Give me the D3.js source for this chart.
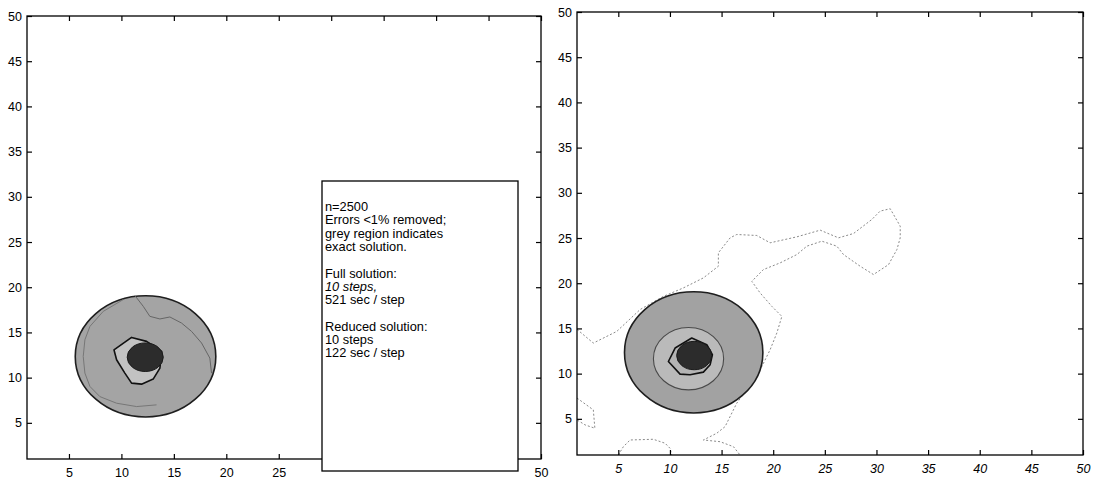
<!DOCTYPE html>
<html>
<head>
<meta charset="utf-8">
<script src="https://cdn.jsdelivr.net/npm/d3@7"></script>
<style>
  body { margin: 0; background: #fff; }
  svg text { font-family: "Liberation Sans", Arial, sans-serif; }
</style>
</head>
<body>
<div id="chart"></div>
<script>
const width = 1095
const height = 484

// axis ticks (both panels, both axes)
const tickValues = [5, 10, 15, 20, 25, 30, 35, 40, 45, 50]
// x labels of the left panel that sit under the note box
const hiddenLeftLabels = [30, 35, 40, 45]
const domain = [1, 50]

// exact solution: circle centre x, centre y, radius (data units)
const exactCircle = [12.3, 12.35, 6.7]

// left panel: full solution contours
const leftCore = [12.27, 12.26, 1.72, 1.58]
const leftInnerPoly = [[9.29, 13.08], [10.97, 14.45], [12.4, 14.01], [13.83, 12.9], [13.67, 11.06],
  [13.03, 9.84], [11.92, 9.28], [10.97, 9.39], [10.33, 10.5], [9.54, 11.98]]
const leftWiggleTop = [[11.29, 19.07], [12.08, 17.89], [12.71, 16.78], [13.67, 16.49], [14.62, 16.71],
  [15.73, 16.04], [16.69, 15.11], [17.64, 13.83], [18.43, 12.16], [18.59, 10.5]]
const leftWiggleSide = [[10.17, 18.63], [8.27, 17.33], [7.0, 15.67], [6.52, 14.19], [6.36, 12.34],
  [6.52, 10.5], [7.0, 9.02], [7.95, 7.9], [9.54, 7.17], [11.45, 6.8], [13.35, 6.99]]

// right panel: reduced solution contours
const rightMiddle = [11.8, 11.65, 3.4, 3.45]
const rightInnerPoly = [[9.85, 11.34], [10.5, 12.83], [12.11, 13.94], [13.57, 13.2], [14.11, 12.09],
  [13.89, 10.98], [13.24, 10.17], [11.95, 9.87], [10.98, 9.95]]
const rightCore = [12.35, 12.0, 1.7, 1.57]

// right panel: 1% error contour (dotted)
const errorContour = [[1.0, 14.9], [2.58, 13.38], [4.85, 14.67], [7.1, 17.08], [9.37, 18.55], [11.3, 19.48],
  [13.24, 20.59], [14.69, 21.88], [14.69, 23.36], [15.83, 25.02], [16.47, 25.39], [18.41, 25.28],
  [19.7, 24.47], [22.29, 25.13], [24.55, 25.87], [26.32, 25.02], [27.78, 25.5], [29.55, 27.05],
  [30.36, 27.98], [31.33, 28.24], [32.3, 26.31], [32.3, 25.02], [31.98, 23.73], [31.17, 22.06],
  [29.71, 20.96], [28.42, 21.88], [26.81, 23.17], [26.16, 24.1], [24.71, 24.65], [23.26, 24.1],
  [22.29, 23.17], [20.67, 22.25], [19.05, 21.51], [17.93, 20.21], [18.73, 18.93], [19.87, 17.44],
  [20.84, 16.33], [20.35, 14.49], [19.7, 12.64], [18.9, 10.79], [17.44, 8.21], [16.47, 6.73],
  [15.34, 4.14], [14.54, 3.41], [13.24, 2.66], [14.86, 2.47], [16.15, 1.92], [16.79, 1.0]]
const errorLoopLeft = [[1.0, 7.3], [2.58, 5.99], [2.73, 3.96], [1.78, 4.33], [1.0, 4.88]]
const errorLoopBottom = [[5.0, 1.0], [5.49, 1.92], [6.14, 2.66], [8.39, 2.74], [9.53, 2.3], [10.01, 1.74], [10.17, 1.0]]

// note box text
const noteLines = ["n=2500", "Errors <1% removed;", "grey region indicates", "exact solution.", "",
  "Full solution:", "10 steps,", "521 sec / step", "", "Reduced solution:", "10 steps", "122 sec / step"]
const italicLines = ["10 steps,"]

const svg = d3.select("div#chart").append("svg").attr("width", width).attr("height", height)

function makePanel(id, xRange, yRange, italicX, hideX) {
  const x = d3.scaleLinear().domain(domain).range(xRange)
  const y = d3.scaleLinear().domain(domain).range(yRange)
  const g = svg.append("g").attr("class", id)

  g.append("clipPath").attr("id", "clip-" + id)
    .append("rect")
    .attr("x", xRange[0]).attr("y", yRange[1])
    .attr("width", xRange[1] - xRange[0]).attr("height", yRange[0] - yRange[1])

  const plot = g.append("g").attr("clip-path", `url(#clip-${id})`)

  // axes, MATLAB style: ticks inward on all four sides
  const bottom = g.append("g").attr("transform", `translate(0, ${yRange[0]})`)
    .call(d3.axisBottom(x).tickValues(tickValues).tickSizeInner(-5).tickSizeOuter(0).tickPadding(9)
      .tickFormat(d => hideX.includes(d) ? "" : d))
  const top = g.append("g").attr("transform", `translate(0, ${yRange[1]})`)
    .call(d3.axisTop(x).tickValues(tickValues).tickSizeInner(-5).tickSizeOuter(0).tickFormat(""))
  const left = g.append("g").attr("transform", `translate(${xRange[0]}, 0)`)
    .call(d3.axisLeft(y).tickValues(tickValues).tickSizeInner(-5).tickSizeOuter(0).tickPadding(5))
  const right = g.append("g").attr("transform", `translate(${xRange[1]}, 0)`)
    .call(d3.axisRight(y).tickValues(tickValues).tickSizeInner(-5).tickSizeOuter(0).tickFormat(""))

  ;[bottom, top, left, right].forEach(a => {
    a.select(".domain").remove()
    a.selectAll(".tick line").attr("stroke", "#000").attr("stroke-width", 1.2)
    a.selectAll("text").attr("font-size", 12.5).attr("fill", "#000")
  })
  if (italicX) bottom.selectAll("text").attr("font-style", "italic")

  g.append("rect")
    .attr("x", xRange[0]).attr("y", yRange[1])
    .attr("width", xRange[1] - xRange[0]).attr("height", yRange[0] - yRange[1])
    .attr("fill", "none").attr("stroke", "#000").attr("stroke-width", 1.3)

  return { x, y, plot }
}

function ellipse(p, e, fill, stroke, sw) {
  p.plot.append("ellipse")
    .attr("cx", p.x(e[0])).attr("cy", p.y(e[1]))
    .attr("rx", p.x(e[0] + e[2]) - p.x(e[0]))
    .attr("ry", p.y(e[1]) - p.y(e[1] + (e.length > 3 ? e[3] : e[2])))
    .attr("fill", fill).attr("stroke", stroke).attr("stroke-width", sw)
}

function poly(p, pts, closed, fill, stroke, sw, dash) {
  const line = d3.line().x(d => p.x(d[0])).y(d => p.y(d[1]))
  const path = p.plot.append("path")
    .attr("d", line(pts) + (closed ? "Z" : ""))
    .attr("fill", fill).attr("stroke", stroke).attr("stroke-width", sw)
    .attr("stroke-linejoin", "round")
  if (dash) path.attr("stroke-dasharray", dash)
}

// ---- left panel
const L = makePanel("left", [27, 541], [459, 16], false, hiddenLeftLabels)
ellipse(L, exactCircle, "#a4a4a4", "#1e1e1e", 1.6)
poly(L, leftWiggleTop, false, "none", "#666", 1)
poly(L, leftWiggleSide, false, "none", "#777", 1)
poly(L, leftInnerPoly, true, "#c2c2c2", "#111", 1.6)
ellipse(L, leftCore, "#2c2c2c", "#1a1a1a", 1)

// note box over the left panel
const box = svg.append("g").attr("class", "note")
box.append("rect").attr("x", 322).attr("y", 181).attr("width", 196).attr("height", 290)
  .attr("fill", "#fff").attr("stroke", "#000").attr("stroke-width", 1.3)
box.selectAll("text").data(noteLines).enter().append("text")
  .attr("x", 325)
  .attr("y", (d, i) => 211 + i * 13.3)
  .attr("font-size", 12.8)
  .attr("font-style", d => italicLines.includes(d) ? "italic" : "normal")
  .text(d => d)

// ---- right panel
const R = makePanel("right", [577, 1083], [455, 12], true, [])
poly(R, errorContour, false, "none", "#8a8a8a", 1, "2,2")
poly(R, errorLoopLeft, false, "none", "#8a8a8a", 1, "2,2")
poly(R, errorLoopBottom, false, "none", "#8a8a8a", 1, "2,2")
ellipse(R, exactCircle, "#a2a2a2", "#1e1e1e", 1.6)
ellipse(R, rightMiddle, "#bababa", "#4a4a4a", 1.1)
poly(R, rightInnerPoly, true, "#b4b4b4", "#111", 1.6)
ellipse(R, rightCore, "#2c2c2c", "#1a1a1a", 1)
</script>
</body>
</html>
